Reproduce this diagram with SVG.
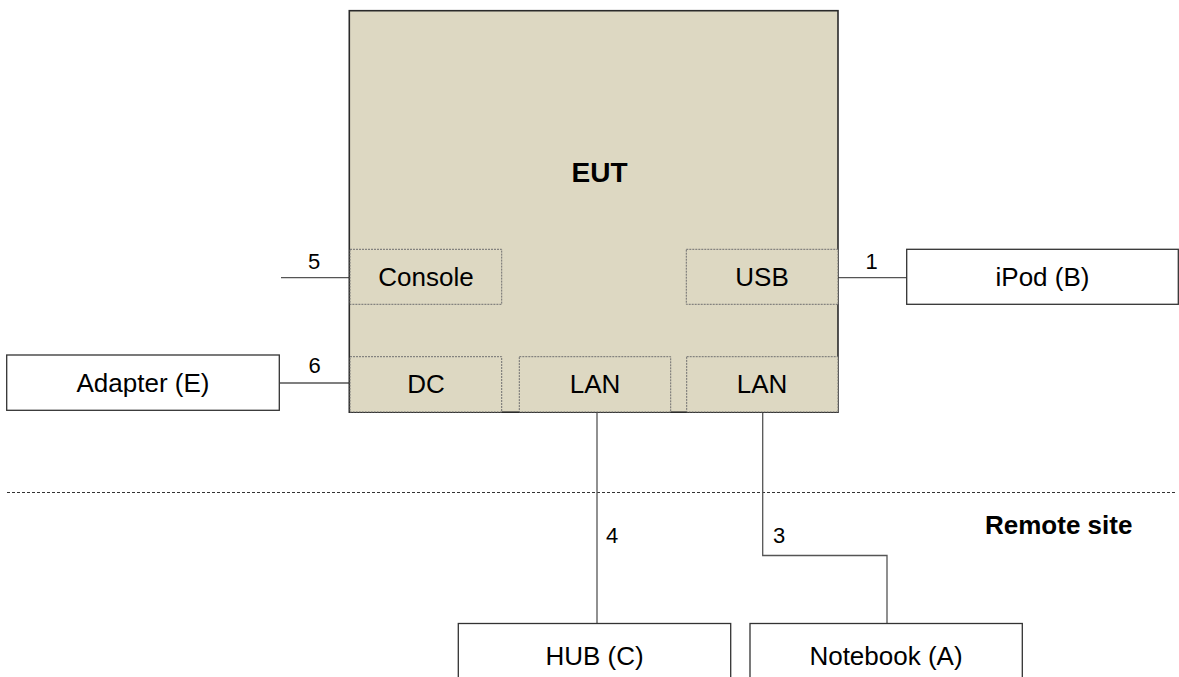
<svg xmlns="http://www.w3.org/2000/svg" width="1179" height="677" viewBox="0 0 1179 677">
<style>
.box{fill:#ffffff;stroke:#333333;stroke-width:1.3}
.eut{fill:#DDD8C2;stroke:#2a2a2a;stroke-width:1.6}
.port{fill:#DDD8C2;stroke:#6f6f6f;stroke-width:1;stroke-dasharray:2 1}
.wire{fill:none;stroke:#555555;stroke-width:1.3}
.sep{fill:none;stroke:#333333;stroke-width:1;stroke-dasharray:3 2}
text{font-family:"Liberation Sans",Arial,sans-serif;fill:#000000}
.lbl{font-size:26px;text-anchor:middle}
.num{font-size:22px;text-anchor:middle}
.bold{font-weight:bold;font-size:26px}
</style>
<rect width="1179" height="677" fill="#ffffff"/>
<g id="separator">
<line class="sep" x1="7" y1="492.5" x2="1177" y2="492.5"/>
<text class="bold" x="985" y="534">Remote site</text>
</g>
<g id="connectors">
<line class="wire" x1="281" y1="277.7" x2="349" y2="277.7"/>
<line class="wire" x1="280" y1="383" x2="349" y2="383"/>
<line class="wire" x1="838" y1="277.7" x2="907" y2="277.7"/>
<line class="wire" x1="597" y1="412" x2="597" y2="623.5"/>
<polyline class="wire" points="762.7,412 762.7,555.5 887,555.5 887,623.5"/>
<text class="num" x="314" y="269">5</text>
<text class="num" x="314.5" y="373">6</text>
<text class="num" x="871.5" y="269">1</text>
<text class="num" x="612" y="543">4</text>
<text class="num" x="779" y="543">3</text>
</g>
<g id="eut">
<rect class="eut" x="349.3" y="10.7" width="488.7" height="401.5"/>
<text class="bold" x="599.5" y="182" text-anchor="middle" style="font-size:28px">EUT</text>
</g>
<g id="port-console">
<rect class="port" x="350" y="249.3" width="151.7" height="55"/>
<text class="lbl" x="426" y="285.7">Console</text>
</g>
<g id="port-usb">
<rect class="port" x="686.3" y="249.3" width="151.7" height="55"/>
<text class="lbl" x="762" y="285.7">USB</text>
</g>
<g id="port-dc">
<rect class="port" x="350" y="356.7" width="151.7" height="55.3"/>
<text class="lbl" x="426" y="393.3">DC</text>
</g>
<g id="port-lan1">
<rect class="port" x="519.3" y="356.7" width="151.4" height="55.3"/>
<text class="lbl" x="595" y="393.3">LAN</text>
</g>
<g id="port-lan2">
<rect class="port" x="686.7" y="356.7" width="151.3" height="55.3"/>
<text class="lbl" x="762" y="393.3">LAN</text>
</g>
<g id="adapter">
<rect class="box" x="6.7" y="355" width="272.6" height="55.3"/>
<text class="lbl" x="143" y="392">Adapter (E)</text>
</g>
<g id="ipod">
<rect class="box" x="906.7" y="249.3" width="271.6" height="55"/>
<text class="lbl" x="1042.5" y="286">iPod (B)</text>
</g>
<g id="hub">
<rect class="box" x="458.3" y="623.5" width="272.4" height="80"/>
<text class="lbl" x="594.5" y="664.5">HUB (C)</text>
</g>
<g id="notebook">
<rect class="box" x="750" y="623.5" width="272.3" height="80"/>
<text class="lbl" x="886" y="664.5">Notebook (A)</text>
</g>
</svg>
